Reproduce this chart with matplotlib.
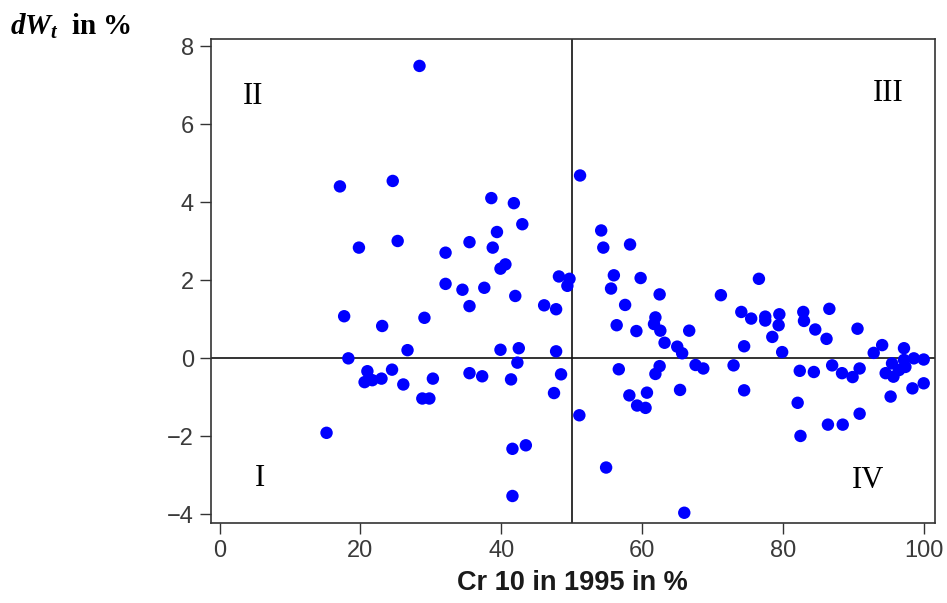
import matplotlib
matplotlib.use("Agg")
import matplotlib.pyplot as plt

# ---- data ----
cr10_left = [15.2, 17.1, 17.7, 18.3, 19.8, 21.0, 20.6, 21.7, 23.0, 23.1,
             24.5, 24.6, 25.3, 26.1, 26.7, 28.4, 29.1, 28.8, 29.8, 30.3,
             32.1, 32.1, 34.5, 35.5, 35.5, 35.5, 37.3, 37.6, 38.6, 38.8,
             39.4, 39.9, 40.6, 39.9, 41.8, 42.0, 41.4, 42.3, 42.5, 43.0,
             41.6, 43.5, 41.6, 46.1, 47.8, 47.8, 47.5, 48.2, 48.5, 49.4,
             49.7]
dw_left = [-1.91, 4.41, 1.08, 0.00, 2.84, -0.33, -0.61, -0.56, -0.52, 0.83,
           -0.29, 4.55, 3.01, -0.67, 0.21, 7.50, 1.04, -1.03, -1.03, -0.52,
           2.71, 1.91, 1.76, 2.98, 1.34, -0.38, -0.46, 1.81, 4.11, 2.84,
           3.24, 2.30, 2.41, 0.22, 3.98, 1.60, -0.54, -0.11, 0.26, 3.44,
           -2.32, -2.23, -3.53, 1.36, 1.26, 0.18, -0.89, 2.10, -0.41, 1.86,
           2.04]

cr10_right = [51.2, 51.1, 54.2, 54.5, 54.9, 55.6, 56.0, 56.4, 56.7, 57.6,
              58.3, 58.2, 59.2, 59.3, 59.8, 60.5, 60.7, 62.5, 61.9, 61.7,
              62.6, 62.5, 61.9, 63.2, 65.0, 65.7, 65.4, 66.0, 66.7, 67.6,
              68.7, 71.2, 73.0, 74.1, 74.5, 74.5, 75.5, 76.6, 77.5, 77.5,
              78.5, 79.4, 79.5, 79.9, 82.1, 82.4, 82.5, 82.9, 83.0, 84.4,
              84.6, 86.2, 86.6, 86.4, 87.0, 88.4, 88.5, 89.9, 90.6, 90.9,
              90.9, 92.9, 94.1, 94.6, 95.5, 95.7, 95.3, 97.2, 97.2, 97.4,
              98.6, 100.0, 98.4, 100.0, 96.5]
dw_right = [4.69, -1.46, 3.28, 2.84, -2.80, 1.79, 2.13, 0.85, -0.28, 1.37,
            2.92, -0.95, 0.70, -1.21, 2.06, -1.27, -0.88, 1.64, 1.05, 0.88,
            0.71, -0.20, -0.40, 0.40, 0.30, 0.13, -0.81, -3.96, 0.71, -0.17,
            -0.26, 1.62, -0.18, 1.19, 0.31, -0.82, 1.02, 2.04, 0.97, 1.07,
            0.55, 0.85, 1.13, 0.16, -1.14, -0.32, -1.99, 1.19, 0.96, -0.35,
            0.74, 0.50, 1.27, -1.70, -0.18, -0.38, -1.70, -0.48, 0.76, -0.26,
            -1.42, 0.14, 0.34, -0.38, -0.13, -0.47, -0.98, 0.26, -0.04, -0.22,
            0.00, -0.03, -0.77, -0.64, -0.30]

cr10 = cr10_left + cr10_right
dw = dw_left + dw_right

x_ticks = [0, 20, 40, 60, 80, 100]
y_ticks = [-4, -2, 0, 2, 4, 6, 8]
quadrants = ["I", "II", "III", "IV"]
quad_pos = [(5.7, -3.08), (4.8, 6.72), (95.0, 6.8), (92.1, -3.12)]

# ---- figure ----
plt.rcParams["mathtext.fontset"] = "custom"
plt.rcParams["mathtext.it"] = "Liberation Serif:italic:bold"
plt.rcParams["mathtext.rm"] = "Liberation Serif:bold"
plt.rcParams["mathtext.bf"] = "Liberation Serif:bold"

fig = plt.figure(figsize=(9.47, 6.03), dpi=100)
ax = fig.add_axes([0.2225, 0.1322, 0.7648, 0.8031])

ax.scatter(cr10, dw, s=80, color="#0000ff", edgecolors="none", zorder=3)
ax.axhline(0, color="#111111", lw=1.2, zorder=2)
ax.axvline(50, color="#111111", lw=1.2, zorder=2)

ax.set_xlim(-1.25, 101.6)
ax.set_ylim(-4.23, 8.19)
ax.set_xticks(x_ticks)
ax.set_yticks(y_ticks)
ax.tick_params(direction="out", length=8, width=1.0, color="#333333",
               labelsize=17, labelcolor="#3a3a3a", pad=4)
for lab in ax.get_xticklabels() + ax.get_yticklabels():
    lab.set_family("Liberation Sans")
for sp in ax.spines.values():
    sp.set_color("#333333")
    sp.set_linewidth(1.2)

ax.set_xlabel("Cr 10 in 1995 in %", fontsize=19.5, family="Liberation Sans",
              fontweight="bold", color="#1a1a1a", labelpad=6)

for q, (qx, qy) in zip(quadrants, quad_pos):
    ax.text(qx, qy, q, fontsize=22, family="Liberation Serif",
            ha="center", va="center", color="black")

fig.text(10 / 947, 1 - 26 / 603, r"$dW_t$  in %", fontsize=21,
         family="Liberation Serif", fontweight="bold", ha="left", va="center")

fig.savefig("out.png", dpi=100)
